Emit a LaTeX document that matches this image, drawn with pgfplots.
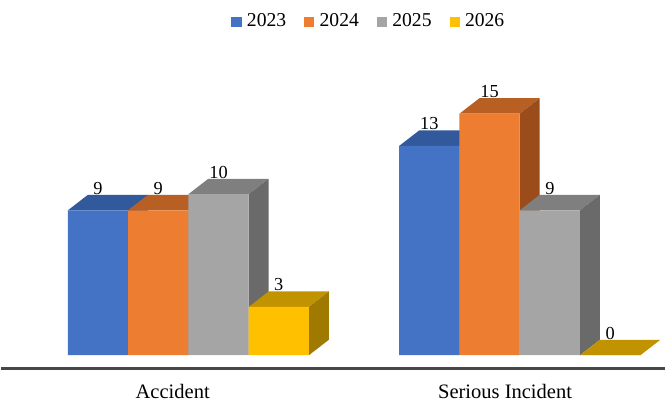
\documentclass[border=0pt]{standalone}
\usepackage{pgfplots}
\pgfplotsset{compat=1.18}
\usepackage{fontspec}
\setmainfont{Liberation Serif}
\definecolor{f23}{HTML}{4472C4}\definecolor{t23}{HTML}{31599B}\definecolor{s23}{HTML}{2B4E88}
\definecolor{f24}{HTML}{ED7D31}\definecolor{t24}{HTML}{B85F24}\definecolor{s24}{HTML}{9A4D1B}
\definecolor{f25}{HTML}{A5A5A5}\definecolor{t25}{HTML}{7F7F7F}\definecolor{s25}{HTML}{6A6A6A}
\definecolor{f26}{HTML}{FFC000}\definecolor{t26}{HTML}{C29300}\definecolor{s26}{HTML}{A07A00}
\newcommand\vfont{\fontsize{9.2}{11}\selectfont}
% 3D top and side faces of one bar: centre (px), value, top colour, side colour
\newcommand\tdfaces[4]{%
  \pgfmathsetmacro\xl{#1-30.25}\pgfmathsetmacro\xr{#1+30.25}%
  \pgfmathsetmacro\xll{#1-10.25}\pgfmathsetmacro\xrr{#1+50.25}%
  \pgfmathsetmacro\vt{#2+0.9586}\pgfmathsetmacro\vl{#2+0.99}%
  \edef\tmp{%
    \noexpand\addplot[fill=#3,draw=none,forget plot] coordinates {(\xl,#2) (\xr,#2) (\xrr,\vt) (\xll,\vt)};
    \noexpand\addplot[fill=#4,draw=none,forget plot] coordinates {(\xr,0) (\xrr,0.9586) (\xrr,\vt) (\xr,#2)};
    \noexpand\node[anchor=base,inner sep=0pt,font=\noexpand\vfont] at (axis cs:#1,\vl) {#2};
  }\tmp}
\begin{document}
\begin{tikzpicture}
\begin{axis}[
  x=0.5pt, y=8.085pt,
  xmin=0, xmax=666, ymin=-2.987, ymax=22.06,
  hide axis, clip=false,
  legend columns=4,
  legend style={draw=none, fill=none, inner sep=0pt, outer sep=0pt,
    at={(axis cs:231,20.72)}, anchor=west,
    font=\fontsize{9.85}{11}\selectfont,
    nodes={inner sep=0pt},
    /tikz/every odd column/.append style={column sep=2.6pt},
    /tikz/every even column/.append style={column sep=9pt}},
  myleg/.style={legend image code/.code={\fill[##1] (0pt,-2.5pt) rectangle (5.2pt,2.5pt);}},
]
\path (axis cs:0,-2.987) rectangle (axis cs:666,22.06);
% depth faces, drawn left to right
\tdfaces{97.05}{9}{t23}{s23}
\tdfaces{157.55}{9}{t24}{s24}
\tdfaces{218.05}{10}{t25}{s25}
\tdfaces{278.55}{3}{t26}{s26}
\tdfaces{429.75}{13}{t23}{s23}
\tdfaces{490.25}{15}{t24}{s24}
\tdfaces{550.75}{9}{t25}{s25}
\tdfaces{611.25}{0}{t26}{s26}
% front faces
\addplot[ybar, bar width=60.5, bar shift=0pt, fill=f23, draw=none, myleg] coordinates {(97.05,9) (429.75,13)};
\addplot[ybar, bar width=60.5, bar shift=0pt, fill=f24, draw=none, myleg] coordinates {(157.55,9) (490.25,15)};
\addplot[ybar, bar width=60.5, bar shift=0pt, fill=f25, draw=none, myleg] coordinates {(218.05,10) (550.75,9)};
\addplot[ybar, bar width=60.5, bar shift=0pt, fill=f26, draw=none, myleg] coordinates {(278.55,3) (611.25,0)};
\legend{2023,2024,2025,2026}
\draw[line width=1.4pt, color=black!72] (axis cs:0,-0.8225) -- (axis cs:666,-0.8225);
\node[anchor=base, inner sep=0pt, font=\fontsize{10.3}{12}\selectfont] at (axis cs:172,-2.678) {Accident};
\node[anchor=base, inner sep=0pt, font=\fontsize{10.3}{12}\selectfont] at (axis cs:505.8,-2.678) {Serious Incident};
\end{axis}
\end{tikzpicture}
\end{document}
